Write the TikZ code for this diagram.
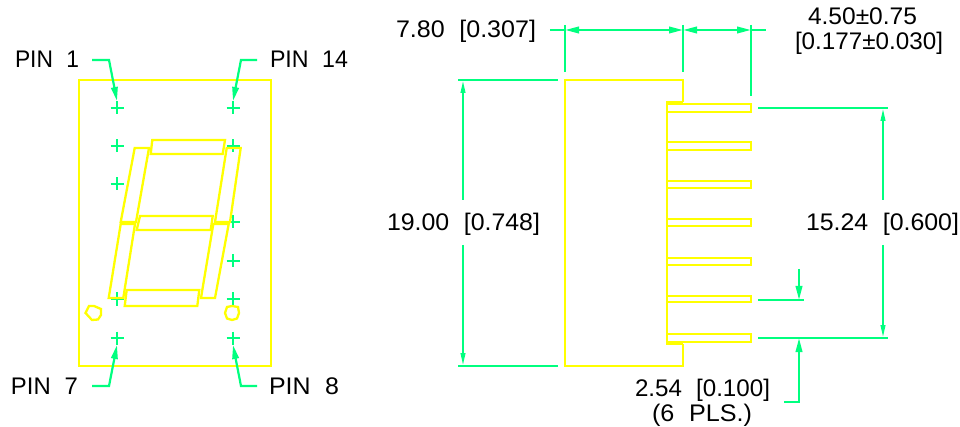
\documentclass[tikz,border=0pt]{standalone}
\usepackage{fontspec}
\usepackage{graphicx}
\setmainfont[WordSpace=2.1]{Liberation Sans}
\usetikzlibrary{arrows.meta,calc}
\definecolor{dimgreen}{HTML}{00FF7F}
\definecolor{bodyyellow}{HTML}{FFFF00}
\tikzset{
  outline/.style={draw=bodyyellow,line width=2.3pt,line join=miter},
  dimline/.style={draw=dimgreen,line width=2.2pt},
  tipbig/.tip={Stealth[length=14pt,width=6.5pt,inset=0pt]},
  tipthin/.tip={Stealth[length=13pt,width=4.5pt,inset=0pt]},
  lbl/.style={anchor=base west,inner sep=0pt,outer sep=0pt,text=black,font=\fontsize{24}{24}\selectfont},
}
\newcommand{\wtxt}[2]{\resizebox{#1pt}{\height}{#2}}
\newcommand{\pinmark}[1]{\draw[dimline,line width=2pt] ($(#1)+(-6.5,0)$) -- ($(#1)+(6.5,0)$) ($(#1)+(0,-6.5)$) -- ($(#1)+(0,6.5)$);}
\begin{document}
\begin{tikzpicture}[x=1pt,y=-1pt]
\useasboundingbox (0,0) rectangle (960,427);
% pin positions
\foreach \n/\x/\y in {a/117/108,b/117/146,c/117/184,d/117/299,e/117/338,
  f/233/108,g/233/146,h/233/222,i/233/261,j/233/299,k/233/338}{
  \coordinate (p\n) at (\x,\y);
  \pinmark{p\n}
}
% front view
\draw[outline] (79,80) rectangle (271,366);
\draw[outline] (152.3,140) -- (225,140) -- (222.7,154) -- (150.7,154) -- cycle;
\draw[outline] (134.7,148) -- (149,148) -- (136,222) -- (120.7,222) -- cycle;
\draw[outline] (226.7,148) -- (240.7,148) -- (230,222) -- (215,222) -- cycle;
\draw[outline] (140,216) -- (212.7,216) -- (210.7,230) -- (136.7,230) -- cycle;
\draw[outline] (120.7,224) -- (135,224) -- (123.3,298) -- (108.7,298) -- cycle;
\draw[outline] (213.3,224) -- (228.7,224) -- (215,298) -- (201,298) -- cycle;
\draw[outline] (126.7,290) -- (199.3,290) -- (197.3,306) -- (124.7,306) -- cycle;
\draw[outline] (85.5,313) -- (89,306) -- (94,306) -- (101,309) -- (101,315) -- (98,319.5) -- (92,320) -- cycle;
\draw[outline] (225,313) -- (227,307) -- (232,306) -- (238,307) -- (239,313) -- (237,318.5) -- (232,320) -- (227,318.5) -- cycle;
% labels left
\node[lbl] (t1) at (15,68) {\wtxt{64}{PIN 1}};
\node[lbl] (t14) at (270,68) {\wtxt{78}{PIN 14}};
\node[lbl] (t7) at (11,394) {\wtxt{67}{PIN 7}};
\node[lbl] (t8) at (269,394) {\wtxt{70}{PIN 8}};
% leaders
\coordinate (l1a) at (92,60); \coordinate (l1b) at (109,60);
\coordinate (l14a) at (257,60); \coordinate (l14b) at (241,60);
\coordinate (l7a) at (92,386); \coordinate (l7b) at (109,386);
\coordinate (l8a) at (257,386); \coordinate (l8b) at (241,386);
\draw[dimline,-{tipbig}] (l1a) -- (l1b) -- ($(pa)+(0,-7)$);
\draw[dimline,-{tipbig}] (l14a) -- (l14b) -- ($(pf)+(0,-7)$);
\draw[dimline,-{tipbig}] (l7a) -- (l7b) -- ($(pe)+(0,7)$);
\draw[dimline,-{tipbig}] (l8a) -- (l8b) -- ($(pk)+(0,7)$);
% side view
\draw[outline] (683,102) -- (683,80) -- (565,80) -- (565,366) -- (683,366) -- (683,344);
\draw[outline] (683,102) -- (667,102) -- (667,344) -- (683,344);
\foreach \t/\b in {104/112,142/150,181/188,219/226,258/265,296/302,334/342}{
  \draw[outline] (667,\t) rectangle (751,\b);
}
% dimensions top
\coordinate (xa) at (565,30); \coordinate (xb) at (683,30); \coordinate (xc) at (751,30);
\coordinate (xl) at (550,30); \coordinate (xr) at (765.5,30);
\coordinate (xat) at (565,25); \coordinate (xab) at (565,72.5);
\coordinate (xbt) at (683,25); \coordinate (xbb) at (683,72.5);
\coordinate (xct) at (751,25); \coordinate (xcb) at (751,96.5);
\draw[dimline] (xat) -- (xab); \draw[dimline] (xbt) -- (xbb); \draw[dimline] (xct) -- (xcb);
\draw[dimline] (xl) -- (xa); \draw[dimline] (xc) -- (xr);
\draw[dimline,{tipbig}-{tipbig}] (xa) -- (xb);
\draw[dimline,{tipbig}-{tipbig}] (xb) -- (xc);
\node[lbl] (t780) at (396,38) {\wtxt{140}{7.80 [0.307]}};
\node[lbl] (t450) at (808,25) {\wtxt{109}{4.50±0.75}};
\node[lbl] (t177) at (795,50) {\wtxt{148}{[0.177±0.030]}};
% dimension left
\coordinate (la) at (458,80); \coordinate (lb) at (557.5,80);
\coordinate (lc) at (458,366); \coordinate (ld) at (557.5,366);
\coordinate (ve) at (463,80); \coordinate (vf) at (463,200);
\coordinate (vg) at (463,245); \coordinate (vh) at (463,366);
\draw[dimline] (la) -- (lb); \draw[dimline] (lc) -- (ld);
\draw[dimline,-{tipthin}] (vf) -- (ve);
\draw[dimline,-{tipthin}] (vg) -- (vh);
\node[lbl] (t1900) at (387,230.5) {\wtxt{153}{19.00 [0.748]}};
% dimension right
\coordinate (ra) at (758,108); \coordinate (rb) at (888,108);
\coordinate (rc) at (758,338); \coordinate (rd) at (888,338);
\coordinate (re) at (883,108); \coordinate (rf) at (883,200);
\coordinate (rg) at (883,245); \coordinate (rh) at (883,338);
\draw[dimline] (ra) -- (rb); \draw[dimline] (rc) -- (rd);
\draw[dimline,-{tipthin}] (rf) -- (re);
\draw[dimline,-{tipthin}] (rg) -- (rh);
\node[lbl] (t1524) at (806,230.5) {\wtxt{153}{15.24 [0.600]}};
% pitch
\coordinate (qa) at (758,300); \coordinate (qb) at (804,300);
\coordinate (qc) at (799,269); \coordinate (qd) at (799,300);
\coordinate (qe) at (784,402); \coordinate (qf) at (799,402); \coordinate (qg) at (799,338);
\draw[dimline] (qa) -- (qb);
\draw[dimline,-{tipbig}] (qc) -- (qd);
\draw[dimline,-{tipbig}] (qe) -- (qf) -- (qg);
\node[lbl] (t254) at (635,396) {\wtxt{135}{2.54 [0.100]}};
\node[lbl] (t6pl) at (652,421.5) {\wtxt{100}{(6 PLS.)}};
\end{tikzpicture}
\end{document}
